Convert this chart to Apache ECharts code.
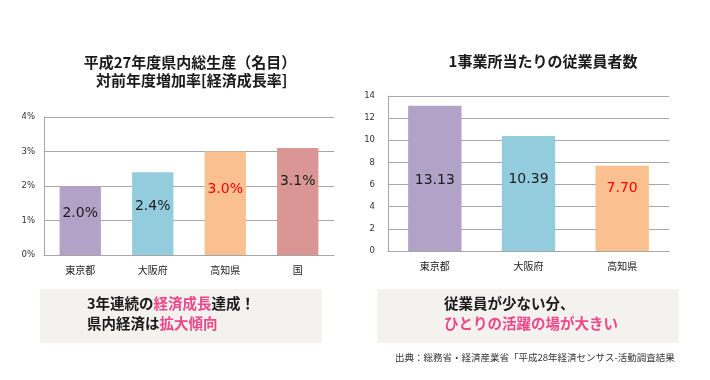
<!DOCTYPE html>
<html><head><meta charset="utf-8">
<script src="https://cdn.jsdelivr.net/npm/echarts@6/dist/echarts.min.js"></script>
<style>html,body{margin:0;padding:0;background:#fff}#c{width:710px;height:380px}</style>
</head><body><div id="c"></div>
<script>
// ---- data ----
const growthCategories = ['東京都', '大阪府', '高知県', '国'];
const growthValues = [2.0, 2.4, 3.0, 3.1];
const growthTicks = ['0%', '1%', '2%', '3%', '4%'];
const employeeCategories = ['東京都', '大阪府', '高知県'];
const employeeValues = [13.13, 10.39, 7.70];
const employeeTicks = ['0', '2', '4', '6', '8', '10', '12', '14'];

// ---- styles (kept separate) ----
const growthColors = ['#b3a2c7', '#93cddd', '#fac090', '#d99694'];
const employeeColors = ['#b3a2c7', '#93cddd', '#fac090'];
const growthLabelColors = ['#1a1a1a', '#1a1a1a', '#ff0000', '#1a1a1a'];
const employeeLabelColors = ['#1a1a1a', '#1a1a1a', '#ff0000'];
const growthLabelOffsets = [-7, -7, -14, -20];
const employeeLabelOffsets = [2, -14, -20];

const JP = '"Noto Sans CJK JP", "Noto Sans", sans-serif';
const NUM = '"DejaVu Sans", Verdana, sans-serif';
const pink = '#f0478a';

const chart = echarts.init(document.getElementById('c'));

function axisCommon(cats) {
  return {
    type: 'category', data: cats,
    axisTick: { show: false },
    axisLine: { lineStyle: { color: '#a6a6a6', width: 1 } },
    axisLabel: { color: '#1a1a1a', fontFamily: JP, fontSize: 10, margin: 10 }
  };
}

chart.setOption({
  animation: false,
  title: [
    { text: '平成27年度県内総生産（名目）\n 対前年度増加率[経済成長率]', left: 185, top: 48, textAlign: 'center',
      textStyle: { fontFamily: JP, fontSize: 15, fontWeight: 'bold', color: '#1a1a1a', lineHeight: 18, align: 'center' } },
    { text: '1事業所当たりの従業員者数', left: 538, top: 49, textAlign: 'center',
      textStyle: { fontFamily: JP, fontSize: 15, fontWeight: 'bold', color: '#1a1a1a' } }
  ],
  grid: [
    { left: 44, right: 376, top: 117, bottom: 125 },
    { left: 388, right: 41, top: 96, bottom: 129 }
  ],
  xAxis: [
    Object.assign(axisCommon(growthCategories), { gridIndex: 0 }),
    Object.assign(axisCommon(employeeCategories), { gridIndex: 1 })
  ],
  yAxis: [
    { gridIndex: 0, type: 'value', min: 0, max: 4, interval: 1,
      axisLine: { show: true, lineStyle: { color: '#a6a6a6' } }, axisTick: { show: false },
      splitLine: { lineStyle: { color: '#a6a6a6', width: 1 } },
      axisLabel: { color: '#333', fontFamily: NUM, fontSize: 8.5, margin: 9,
        formatter: v => growthTicks[Math.round(v)] } },
    { gridIndex: 1, type: 'value', min: 0, max: 14, interval: 2,
      axisLine: { show: true, lineStyle: { color: '#a6a6a6' } }, axisTick: { show: false },
      splitLine: { lineStyle: { color: '#a6a6a6', width: 1 } },
      axisLabel: { color: '#333', fontFamily: NUM, fontSize: 8.5, margin: 13,
        formatter: v => employeeTicks[Math.round(v / 2)] } }
  ],
  series: [
    { type: 'bar', xAxisIndex: 0, yAxisIndex: 0, barWidth: '57%',
      data: growthValues.map((v, i) => ({ value: v, itemStyle: { color: growthColors[i] },
        label: { color: growthLabelColors[i], offset: [0, growthLabelOffsets[i]] } })),
      label: { show: true, position: 'inside', fontFamily: NUM, fontSize: 14,
        formatter: p => p.value.toFixed(1) + '%' } },
    { type: 'bar', xAxisIndex: 1, yAxisIndex: 1, barWidth: '57%',
      data: employeeValues.map((v, i) => ({ value: v, itemStyle: { color: employeeColors[i] },
        label: { color: employeeLabelColors[i], offset: [0, employeeLabelOffsets[i]] } })),
      label: { show: true, position: 'inside', fontFamily: NUM, fontSize: 14,
        formatter: p => p.value.toFixed(2) } }
  ],
  graphic: [
    { type: 'rect', left: 40, top: 289, shape: { width: 282, height: 54 }, style: { fill: '#f3f2ef' }, silent: true },
    { type: 'rect', left: 377, top: 289, shape: { width: 302, height: 54 }, style: { fill: '#f3f2ef' }, silent: true },
    { type: 'text', left: 87, top: 296, style: {
        text: '{b|3年連続の}{p|経済成長}{b|達成！}\n{b|県内経済は}{p|拡大傾向}',
        rich: {
          b: { fontFamily: JP, fontSize: 14.5, fontWeight: 'bold', fill: '#1a1a1a', lineHeight: 20 },
          p: { fontFamily: JP, fontSize: 14.5, fontWeight: 'bold', fill: pink, lineHeight: 20 }
        } } },
    { type: 'text', left: 444, top: 296, style: {
        text: '{b|従業員が少ない分、}\n{p|ひとりの活躍の場が大きい}',
        rich: {
          b: { fontFamily: JP, fontSize: 14.5, fontWeight: 'bold', fill: '#1a1a1a', lineHeight: 20 },
          p: { fontFamily: JP, fontSize: 14.5, fontWeight: 'bold', fill: pink, lineHeight: 20 }
        } } },
    { type: 'text', left: 395, top: 353, style: {
        text: '出典：総務省・経済産業省「平成28年経済センサス-活動調査結果',
        fontFamily: JP, fontSize: 9.5, fill: '#333' } }
  ]
});
</script></body></html>
